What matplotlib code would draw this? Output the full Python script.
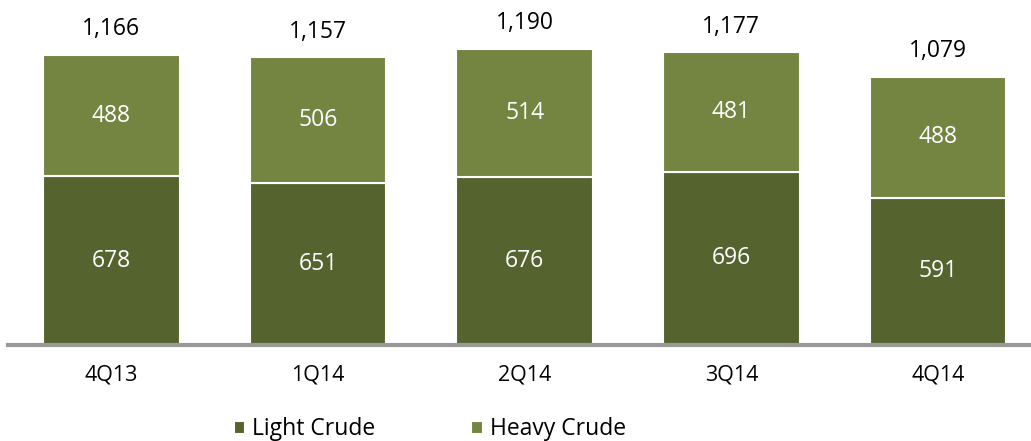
import matplotlib.pyplot as plt
import numpy as np

quarters = ["4Q13", "1Q14", "2Q14", "3Q14", "4Q14"]
light_crude = [678, 651, 676, 696, 591]
heavy_crude = [488, 506, 514, 481, 488]
totals = ["1,166", "1,157", "1,190", "1,177", "1,079"]

dark_green = "#55642f"
light_green = "#748542"

plt.rcParams["font.family"] = ["Open Sans", "DejaVu Sans"]

fig = plt.figure(figsize=(10.31, 4.41), dpi=100)
ax = fig.add_axes([8 / 1031, 96 / 441, 1 - 8 / 1031, 345 / 441])

x = np.arange(len(quarters))
light = np.array(light_crude)
heavy = np.array(heavy_crude)

# stacked bars, white edge gives the separator line
ax.bar(x, light, width=0.66, color=dark_green, edgecolor="white",
       linewidth=1.5, label="Light Crude")
ax.bar(x, heavy, width=0.66, bottom=light, color=light_green,
       edgecolor="white", linewidth=1.5, label="Heavy Crude")

for i in range(len(quarters)):
    ax.text(x[i], light[i] / 2, str(light[i]), ha="center", va="center",
            color="white", fontsize=16.5)
    ax.text(x[i], light[i] + heavy[i] / 2, str(heavy[i]), ha="center",
            va="center", color="white", fontsize=16.5)
    ax.text(x[i], light[i] + heavy[i] + 103, totals[i], ha="center",
            va="center", color="black", fontsize=16.5)

ax.set_xlim(-0.5, 4.45)
ax.set_ylim(0, 1387)

for side in ["top", "right", "left"]:
    ax.spines[side].set_visible(False)
ax.spines["bottom"].set_color("#999999")
ax.spines["bottom"].set_linewidth(3)

ax.set_yticks([])
ax.set_xticks(x)
ax.set_xticklabels(quarters, fontsize=15.5)
ax.tick_params(axis="x", length=0, pad=14)

ax.legend(loc="center", bbox_to_anchor=(433 / 1031 - 8 / 1031, -0.244),
          bbox_transform=ax.transAxes, ncol=2, frameon=False, fontsize=16.5,
          handlelength=0.5, handleheight=0.5, handletextpad=0.3,
          columnspacing=4.2)

fig.savefig("out.png", dpi=100)
